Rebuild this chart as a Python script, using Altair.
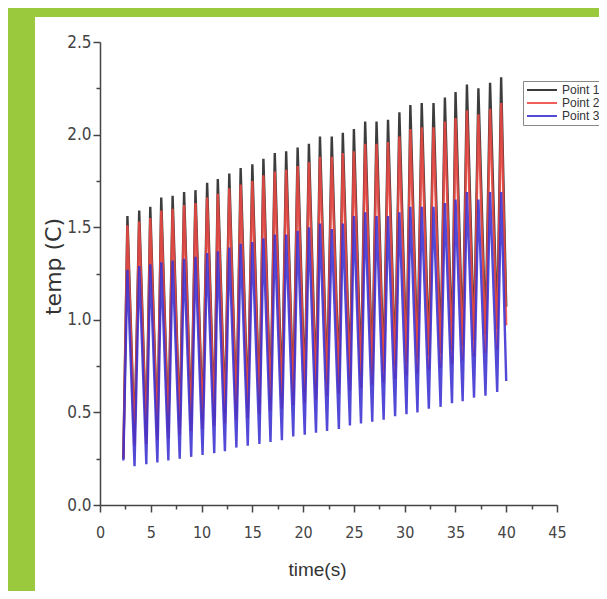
import altair as alt
import pandas as pd

# ---- data ----
series_names = ["Point 1", "Point 2", "Point 3"]
series_colors = ["#222222", "#f04a44", "#3a30d2"]

peak_times = [2.70, 3.86, 4.95, 6.03, 7.15, 8.28, 9.40, 10.55, 11.60, 12.73,
              13.85, 15.00, 16.09, 17.21, 18.33, 19.46, 20.57, 21.66, 22.82, 23.91,
              25.00, 26.11, 27.23, 28.36, 29.48, 30.56, 31.68, 32.84, 33.96, 35.01,
              36.13, 37.26, 38.41, 39.50]

p1_peaks = [1.56, 1.59, 1.61, 1.66, 1.67, 1.69, 1.70, 1.74, 1.76, 1.79,
            1.82, 1.84, 1.87, 1.90, 1.91, 1.93, 1.95, 1.99, 1.99, 2.01,
            2.03, 2.07, 2.07, 2.08, 2.12, 2.16, 2.17, 2.17, 2.20, 2.23,
            2.27, 2.25, 2.28, 2.31]
p2_peaks = [1.51, 1.53, 1.55, 1.59, 1.60, 1.62, 1.63, 1.66, 1.68, 1.71,
            1.73, 1.75, 1.78, 1.80, 1.81, 1.83, 1.85, 1.88, 1.88, 1.90,
            1.91, 1.95, 1.95, 1.96, 1.99, 2.03, 2.04, 2.04, 2.07, 2.09,
            2.13, 2.11, 2.14, 2.17]
p3_peaks = [1.27, 1.29, 1.30, 1.31, 1.32, 1.33, 1.34, 1.36, 1.37, 1.39,
            1.41, 1.42, 1.44, 1.46, 1.46, 1.48, 1.50, 1.52, 1.49, 1.52,
            1.56, 1.58, 1.56, 1.56, 1.58, 1.61, 1.61, 1.61, 1.63, 1.65,
            1.69, 1.65, 1.69, 1.69]

p1_troughs = [0.35, 0.37, 0.38, 0.40, 0.42, 0.44, 0.45, 0.47, 0.49, 0.50,
              0.52, 0.54, 0.56, 0.58, 0.59, 0.61, 0.63, 0.65, 0.66, 0.68,
              0.70, 0.72, 0.73, 0.75, 0.77, 0.79, 0.81, 0.82, 0.84, 0.86,
              0.89, 0.92, 0.95]
p2_troughs = [0.32, 0.33, 0.35, 0.36, 0.38, 0.40, 0.41, 0.43, 0.44, 0.46,
              0.47, 0.49, 0.51, 0.52, 0.54, 0.55, 0.57, 0.59, 0.60, 0.62,
              0.63, 0.65, 0.66, 0.68, 0.70, 0.71, 0.73, 0.74, 0.76, 0.78,
              0.80, 0.82, 0.84]
p3_troughs = [0.21, 0.22, 0.23, 0.24, 0.25, 0.26, 0.27, 0.28, 0.29, 0.31,
              0.32, 0.33, 0.34, 0.35, 0.37, 0.38, 0.39, 0.40, 0.41, 0.43,
              0.44, 0.45, 0.46, 0.48, 0.49, 0.50, 0.52, 0.53, 0.55, 0.56,
              0.58, 0.59, 0.61]

start_time = 2.30
start_values = [0.25, 0.25, 0.24]
end_time = 40.0
end_values = [1.07, 0.97, 0.67]
fall_lag = 0.70  # time from a peak to the following trough

x_ticks = [0, 2.5, 5, 7.5, 10, 12.5, 15, 17.5, 20, 22.5, 25, 27.5, 30, 32.5,
           35, 37.5, 40, 42.5, 45]
y_ticks = [0, 0.25, 0.5, 0.75, 1.0, 1.25, 1.5, 1.75, 2.0, 2.25, 2.5]

# ---- build table ----
rows = []
all_peaks = [p1_peaks, p2_peaks, p3_peaks]
all_troughs = [p1_troughs, p2_troughs, p3_troughs]
for k, name in enumerate(series_names):
    rows.append((name, start_time, start_values[k]))
    for i, t in enumerate(peak_times):
        rows.append((name, t, all_peaks[k][i]))
        if i < len(all_troughs[k]):
            rows.append((name, t + fall_lag, all_troughs[k][i]))
    rows.append((name, end_time, end_values[k]))
df = pd.DataFrame(rows, columns=["series", "time", "temp"])

GREEN = "#9bc93d"
AXIS_COL = "#444444"
NARROW = "Liberation Sans Narrow, DejaVu Sans Condensed, sans-serif"

x_axis = alt.Axis(
    values=x_ticks,
    labelExpr="datum.value % 5 === 0 ? datum.label : ''",
    tickSize={"condition": {"test": "datum.value % 5 === 0", "value": 7}, "value": 4},
    labelFont=NARROW, labelFontSize=16, labelColor=AXIS_COL, labelPadding=12,
    labelFlush=False, labelOverlap=False,
    domainColor=AXIS_COL, domainWidth=1.5, tickColor=AXIS_COL, tickWidth=1.5,
    grid=False,
    title="time(s)", titleFont="Liberation Sans", titleFontSize=19,
    titleFontWeight="normal", titleColor="#333333",
    titleX=217, titleY=64, titleBaseline="middle",
)
y_axis = alt.Axis(
    values=y_ticks, format=".1f",
    labelExpr="datum.value % 0.5 === 0 ? datum.label : ''",
    tickSize={"condition": {"test": "datum.value % 0.5 === 0", "value": 7}, "value": 4},
    labelFont=NARROW, labelFontSize=17, labelColor=AXIS_COL, labelPadding=2,
    labelFlush=False, labelOverlap=False,
    domainColor=AXIS_COL, domainWidth=1.5, tickColor=AXIS_COL, tickWidth=1.5,
    grid=False,
    title="temp (C)", titleFont="DejaVu Sans", titleFontSize=22,
    titleFontWeight="normal", titleColor="#333333",
    titleX=-47, titleY=224, titleBaseline="middle",
)

lines = alt.Chart(df).mark_line(strokeWidth=2.4, opacity=0.88).encode(
    x=alt.X("time:Q", scale=alt.Scale(domain=[0, 45], nice=False), axis=x_axis),
    y=alt.Y("temp:Q", scale=alt.Scale(domain=[0, 2.5], nice=False), axis=y_axis),
    color=alt.Color(
        "series:N",
        scale=alt.Scale(domain=series_names, range=series_colors),
        title=None,
        legend=alt.Legend(
            orient="none", legendX=423, legendY=39,
            symbolType="M-1,0H5", symbolStrokeWidth=2, symbolSize=100,
            labelFont="Liberation Sans", labelFontSize=12, labelColor="#333333",
            strokeColor="#888888", fillColor="white", padding=3,
            rowPadding=1, labelOffset=24,
        ),
    ),
)

band_data = alt.Data(values=[{"k": 1}])
top_band = alt.Chart(band_data).mark_rect(color=GREEN).encode(
    x=alt.value(-92), x2=alt.value(499), y=alt.value(-34), y2=alt.value(-25)
)
left_band = alt.Chart(band_data).mark_rect(color=GREEN).encode(
    x=alt.value(-92), x2=alt.value(-65), y=alt.value(-34), y2=alt.value(549)
)

chart = alt.layer(top_band, left_band, lines).properties(
    width=457, height=463,
    autosize=alt.AutoSizeParams(type="none"),
    padding={"left": 92, "top": 34, "right": 42, "bottom": 86},
    background="white",
).configure_view(stroke="transparent")

chart.save("out.html", embed_options={"renderer": "svg", "actions": False})
